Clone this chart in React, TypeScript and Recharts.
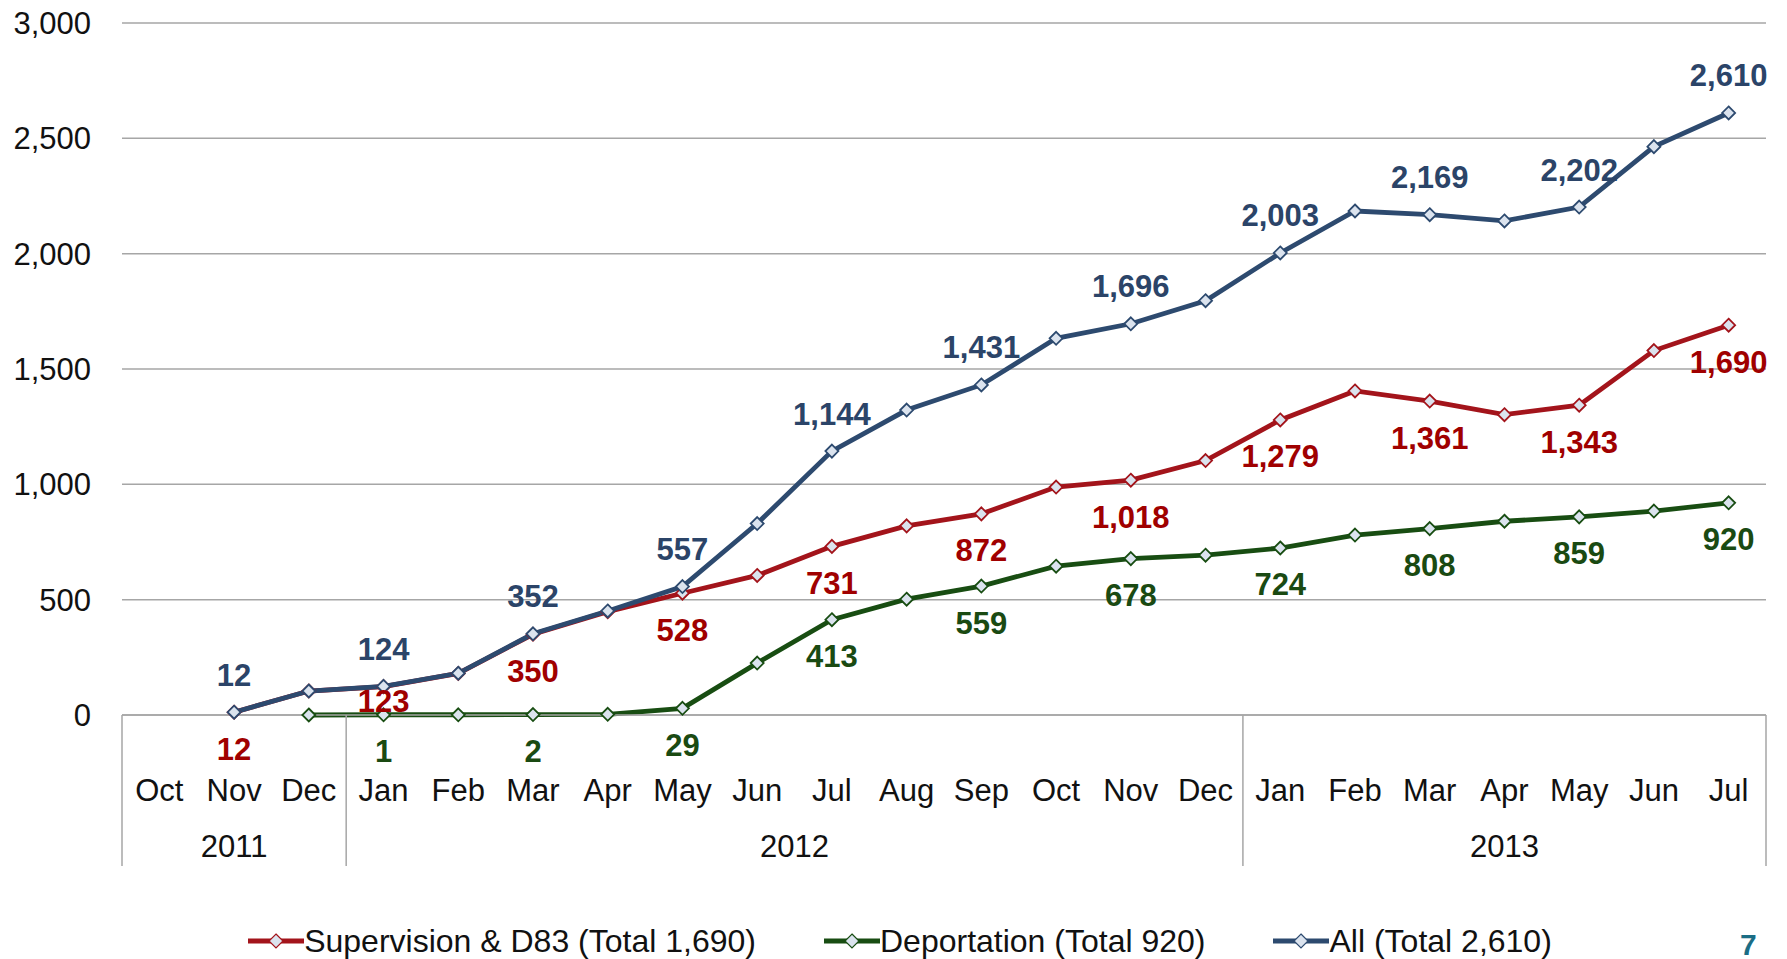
import React from "react";
import { LineChart, Line, XAxis, YAxis, CartesianGrid, Legend, LabelList } from "recharts";

const MONTHS = ["Oct", "Nov", "Dec", "Jan", "Feb", "Mar", "Apr", "May", "Jun", "Jul", "Aug", "Sep", "Oct", "Nov", "Dec", "Jan", "Feb", "Mar", "Apr", "May", "Jun", "Jul"];
const YEAR_GROUPS = [
  { year: "2011", count: 3 },
  { year: "2012", count: 12 },
  { year: "2013", count: 7 },
];
const SUPERVISION = [null, 12, 104, 123, 180, 350, 448, 528, 605, 731, 820, 872, 988, 1018, 1103, 1279, 1405, 1361, 1302, 1343, 1580, 1690];
const DEPORTATION = [null, null, 0, 1, 1, 2, 3, 29, 225, 413, 502, 559, 645, 678, 693, 724, 780, 808, 840, 859, 884, 920];
const ALL = [null, 12, 104, 124, 181, 352, 451, 557, 830, 1144, 1322, 1431, 1633, 1696, 1796, 2003, 2185, 2169, 2142, 2202, 2464, 2610];
const Y_TICKS = [0, 500, 1000, 1500, 2000, 2500, 3000];

const SERIES = [
  { key: "supervision", name: "Supervision & D83 (Total 1,690)", color: "#a3141b", label: "#a00000", below: true },
  { key: "deportation", name: "Deportation (Total 920)", color: "#184d12", label: "#1a4a12", below: true },
  { key: "all", name: "All (Total 2,610)", color: "#2d4a6f", label: "#2b4468", below: false },
];

const FONT = '"Liberation Sans", Arial, sans-serif';
const W = 1787;
const H = 959;
const MARGIN = { top: 23, right: 21, left: 0, bottom: 0 };
const Y_AXIS_W = 122;
const LEGEND_H = 36;
const PLOT_BOTTOM = 715;
const X_AXIS_H = H - MARGIN.top - MARGIN.bottom - LEGEND_H - (PLOT_BOTTOM - MARGIN.top);
const BAND = (W - MARGIN.left - MARGIN.right - Y_AXIS_W) / MONTHS.length;
const MARKER_FILL = "#dbe3ee";
const TEXT_SIZE = 31;

// the "123" label sits closer to its point in the original
const LABEL_NUDGE: Record<string, Record<number, number>> = { supervision: { 3: -22 } };

const groupStarts: Record<number, { year: string; count: number }> = {};
let acc = 0;
for (const g of YEAR_GROUPS) {
  groupStarts[acc] = g;
  acc += g.count;
}

const data = MONTHS.map((m, i) => ({
  key: `${i}-${m}`,
  supervision: SUPERVISION[i],
  deportation: DEPORTATION[i],
  all: ALL[i],
}));

const fmt = (v: number) => v.toLocaleString("en-US");

function MonthTick(props: any) {
  const { x, payload } = props;
  const i = payload.index;
  const g = groupStarts[i];
  const sepStyle = { stroke: "#a6a6a6", strokeWidth: 1.5 };
  return (
    <g>
      <text x={x} y={PLOT_BOTTOM + 75} textAnchor="middle" dominantBaseline="central" fontSize={TEXT_SIZE} fontFamily={FONT} fill="#111">
        {MONTHS[i]}
      </text>
      {g && (
        <>
          <line x1={x - BAND / 2} x2={x - BAND / 2} y1={PLOT_BOTTOM} y2={PLOT_BOTTOM + 151} {...sepStyle} />
          <text x={x + ((g.count - 1) * BAND) / 2} y={PLOT_BOTTOM + 131} textAnchor="middle" dominantBaseline="central" fontSize={TEXT_SIZE} fontFamily={FONT} fill="#111">
            {g.year}
          </text>
        </>
      )}
      {i === MONTHS.length - 1 && <line x1={x + BAND / 2} x2={x + BAND / 2} y1={PLOT_BOTTOM} y2={PLOT_BOTTOM + 151} {...sepStyle} />}
    </g>
  );
}

function Diamond({ cx, cy, color }: { cx?: number; cy?: number; color: string }) {
  if (cx == null || cy == null) return null;
  const r = 6.5;
  return <polygon points={`${cx},${cy - r} ${cx + r},${cy} ${cx},${cy + r} ${cx - r},${cy}`} fill={MARKER_FILL} stroke={color} strokeWidth={1.8} />;
}

function makeLabel(seriesKey: string, color: string, below: boolean) {
  return (props: any) => {
    const { x, y, value, index } = props;
    if (value == null || index % 2 !== 1) return null;
    const nudge = LABEL_NUDGE[seriesKey]?.[index] ?? 0;
    return (
      <text x={x} y={y + (below ? 37 : -37) + nudge} textAnchor="middle" dominantBaseline="central" fontSize={TEXT_SIZE} fontWeight="bold" fontFamily={FONT} fill={color}>
        {fmt(value)}
      </text>
    );
  };
}

function LegendContent() {
  return (
    <div style={{ display: "flex", justifyContent: "center", alignItems: "center", gap: 68, height: LEGEND_H, paddingLeft: 34, fontFamily: FONT, fontSize: 32, color: "#111" }}>
      {SERIES.map((s) => (
        <div key={s.key} style={{ display: "flex", alignItems: "center" }}>
          <svg width={56} height={20}>
            <line x1={0} x2={56} y1={10} y2={10} stroke={s.color} strokeWidth={5} />
            <polygon points="28,3 35,10 28,17 21,10" fill={MARKER_FILL} stroke={s.color} strokeWidth={1.2} />
          </svg>
          <span>{s.name}</span>
        </div>
      ))}
    </div>
  );
}

export default function App() {
  return (
    <div style={{ position: "relative", width: W, height: H }}>
      <style>{"body{margin:0}"}</style>
      <LineChart width={W} height={H} data={data} margin={MARGIN}>
        <CartesianGrid horizontal vertical={false} stroke="#a6a6a6" strokeWidth={1.5} />
        <XAxis
          dataKey="key"
          scale="band"
          interval={0}
          height={X_AXIS_H}
          tickLine={false}
          axisLine={{ stroke: "#a6a6a6", strokeWidth: 1.5 }}
          tick={<MonthTick />}
        />
        <YAxis
          width={Y_AXIS_W}
          domain={[0, 3000]}
          ticks={Y_TICKS}
          tickFormatter={fmt}
          axisLine={false}
          tickLine={false}
          tickSize={6}
          tickMargin={25}
          tick={{ fontSize: TEXT_SIZE, fontFamily: FONT, fill: "#111" }}
        />
        <Legend verticalAlign="bottom" height={LEGEND_H} content={<LegendContent />} />
        {SERIES.map((s) => (
          <Line
            key={s.key}
            dataKey={s.key}
            name={s.name}
            stroke={s.color}
            strokeWidth={4.8}
            isAnimationActive={false}
            connectNulls={false}
            dot={(p: any) => <Diamond key={`${s.key}-${p.index}`} cx={p.value == null ? undefined : p.cx} cy={p.value == null ? undefined : p.cy} color={s.color} />}
            activeDot={false}
          >
            <LabelList dataKey={s.key} content={makeLabel(s.key, s.label, s.below)} />
          </Line>
        ))}
      </LineChart>
      <div style={{ position: "absolute", left: 1740, top: 928, fontFamily: FONT, fontSize: 30, fontWeight: "bold", color: "#1b6d85" }}>7</div>
    </div>
  );
}
